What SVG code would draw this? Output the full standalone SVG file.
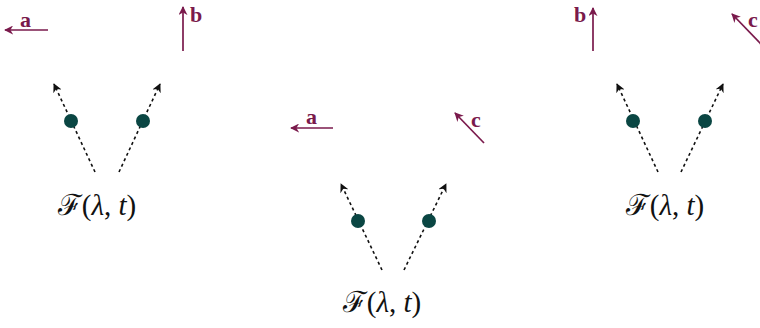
<svg xmlns="http://www.w3.org/2000/svg" width="760" height="328" viewBox="0 0 760 328">
<defs>
<marker id="ak" viewBox="0 0 10 10" refX="9" refY="5" markerWidth="9" markerHeight="9" markerUnits="userSpaceOnUse" orient="auto">
<path d="M0,0 L10,5 L0,10 L3,5 Z" fill="#111"/>
</marker>
<marker id="am" viewBox="0 0 10 10" refX="9" refY="5" markerWidth="9" markerHeight="9" markerUnits="userSpaceOnUse" orient="auto">
<path d="M0,0 L10,5 L0,10 L3,5 Z" fill="#7a1a4c"/>
</marker>
<style>
.d{stroke:#111;stroke-width:1.6;stroke-dasharray:3 3;fill:none;marker-end:url(#ak)}
.m{stroke:#7a1a4c;stroke-width:1.7;fill:none;marker-end:url(#am)}
.dot{fill:#0a4643}
.lab{font-family:"Liberation Serif","DejaVu Serif",serif;font-weight:bold;font-size:22px;fill:#7a1a4c}
.f{font-family:"Liberation Serif","DejaVu Serif",serif;font-size:29px;fill:#111}
.i{font-style:italic}
</style>
</defs>
<g id="connectors">
<line class="d" x1="95" y1="172" x2="54" y2="84"/>
<line class="d" x1="119" y1="172" x2="160" y2="84"/>
<line class="d" x1="382" y1="270" x2="341" y2="184"/>
<line class="d" x1="404" y1="270" x2="446" y2="184"/>
<line class="d" x1="658" y1="172" x2="617" y2="84"/>
<line class="d" x1="681" y1="172" x2="723" y2="84"/>
<line class="m" x1="48" y1="30" x2="5" y2="30"/>
<line class="m" x1="183" y1="51" x2="183" y2="7"/>
<line class="m" x1="333" y1="128" x2="291" y2="128"/>
<line class="m" x1="484" y1="143" x2="455" y2="113"/>
<line class="m" x1="593" y1="51" x2="593" y2="8"/>
<line class="m" x1="762" y1="45" x2="732" y2="14"/>
</g>
<g id="left">
<circle class="dot" cx="71" cy="121" r="7"/>
<circle class="dot" cx="143" cy="121" r="7"/>
<text class="f" x="97" y="215" text-anchor="middle">ℱ(<tspan class="i">λ</tspan>, <tspan class="i">t</tspan>)</text>
</g>
<g id="middle">
<circle class="dot" cx="358" cy="221" r="7"/>
<circle class="dot" cx="429" cy="221" r="7"/>
<text class="f" x="382" y="312" text-anchor="middle">ℱ(<tspan class="i">λ</tspan>, <tspan class="i">t</tspan>)</text>
</g>
<g id="right">
<circle class="dot" cx="633" cy="121" r="7"/>
<circle class="dot" cx="705" cy="121" r="7"/>
<text class="f" x="665" y="215" text-anchor="middle">ℱ(<tspan class="i">λ</tspan>, <tspan class="i">t</tspan>)</text>
</g>
<g id="labels">
<text class="lab" x="20" y="27">a</text>
<text class="lab" x="190" y="22">b</text>
<text class="lab" x="306" y="124">a</text>
<text class="lab" x="471" y="127">c</text>
<text class="lab" x="574" y="22">b</text>
<text class="lab" x="748" y="27">c</text>
</g>
</svg>
